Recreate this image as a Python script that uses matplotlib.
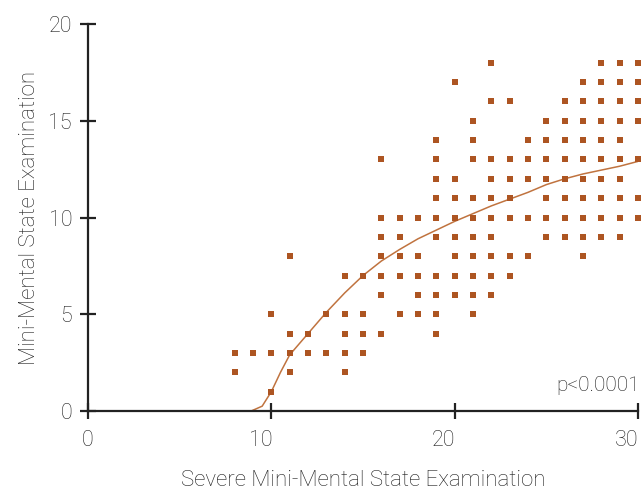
import matplotlib
matplotlib.use("Agg")
import matplotlib.pyplot as plt
import matplotlib.transforms as mtransforms

# scatter points (integer grid)
pts_x = [8, 8, 9,
         10, 10, 10,
         11, 11, 11, 11,
         12, 12,
         13, 13,
         14, 14, 14, 14, 14,
         15, 15, 15, 15,
         16, 16, 16, 16, 16, 16, 16,
         17, 17, 17, 17, 17,
         18, 18, 18, 18, 18,
         19, 19, 19, 19, 19, 19, 19, 19, 19, 19, 19,
         20, 20, 20, 20, 20, 20, 20, 20,
         21, 21, 21, 21, 21, 21, 21, 21, 21, 21,
         22, 22, 22, 22, 22, 22, 22, 22, 22, 22, 22,
         23, 23, 23, 23, 23, 23, 23,
         24, 24, 24, 24, 24,
         25, 25, 25, 25, 25, 25, 25,
         26, 26, 26, 26, 26, 26, 26, 26,
         27, 27, 27, 27, 27, 27, 27, 27, 27, 27,
         28, 28, 28, 28, 28, 28, 28, 28, 28, 28,
         29, 29, 29, 29, 29, 29, 29, 29, 29, 29,
         30, 30, 30, 30, 30, 30, 30]
pts_y = [3, 2, 3,
         5, 3, 1,
         8, 4, 3, 2,
         4, 3,
         5, 3,
         7, 5, 4, 3, 2,
         7, 5, 4, 3,
         13, 10, 9, 8, 7, 6, 4,
         10, 9, 8, 7, 5,
         10, 8, 7, 6, 5,
         14, 13, 12, 11, 10, 9, 7, 6, 5, 4, 4,
         17, 12, 11, 10, 9, 8, 7, 6,
         15, 14, 13, 11, 10, 9, 8, 7, 6, 5,
         18, 16, 13, 12, 11, 10, 9, 8, 7, 6, 6,
         16, 13, 12, 11, 10, 8, 7,
         14, 13, 12, 10, 8,
         15, 14, 13, 12, 11, 10, 9,
         16, 15, 14, 13, 12, 11, 10, 9,
         17, 16, 15, 14, 13, 12, 11, 10, 9, 8,
         18, 17, 16, 15, 14, 13, 12, 11, 10, 9,
         18, 17, 16, 15, 14, 13, 12, 11, 10, 9,
         18, 17, 16, 15, 13, 11, 10]

# fitted curve
fit_x = [8.9, 9.5, 10, 10.5, 11, 12, 13, 14, 15, 16, 17, 18, 19, 20,
         21, 22, 23, 24, 25, 26, 27, 28, 29, 30]
fit_y = [0, 0.25, 1.0, 2.0, 2.9, 4.0, 5.1, 6.1, 7.0, 7.75, 8.35, 8.9, 9.35, 9.8,
         10.2, 10.6, 10.95, 11.3, 11.7, 12.0, 12.25, 12.45, 12.65, 12.9]

xticks = [0, 10, 20, 30]
yticks = [0, 5, 10, 15, 20]

plt.rcParams['font.family'] = ['Roboto', 'DejaVu Sans']
plt.rcParams['font.weight'] = 'light'
txt_color = '#1e1e1e'

fig = plt.figure(figsize=(6.44, 4.91), dpi=100)
ax = fig.add_axes([88 / 644, 1 - 411 / 491, 550 / 644, 387 / 491])

ax.plot(fit_x, fit_y, color='#c0733f', lw=1.1, zorder=2)
ax.scatter(pts_x, pts_y, marker='s', s=20, color='#ad5522', linewidths=0,
           zorder=3, clip_on=False)

ax.set_xlim(0, 30)
ax.set_ylim(0, 20)
ax.set_xticks(xticks)
ax.set_yticks(yticks)
ax.set_xticklabels([str(t) for t in xticks], fontweight='light')
ax.set_yticklabels([str(t) for t in yticks], fontweight='light')

for s in ['top', 'right']:
    ax.spines[s].set_visible(False)
for s in ['left', 'bottom']:
    ax.spines[s].set_linewidth(1.6)
    ax.spines[s].set_color('#222222')

ax.tick_params(direction='inout', length=11, width=1.6, color='#222222',
               labelsize=15.5, labelcolor=txt_color)
ax.tick_params(axis='x', pad=8)
ax.tick_params(axis='y', pad=6)

# x tick labels sit a bit left of their ticks in the original
for lab in ax.get_xticklabels()[1:]:
    off = mtransforms.ScaledTranslation(-11 / 100, 0, fig.dpi_scale_trans)
    lab.set_transform(lab.get_transform() + off)

ax.set_xlabel('Severe Mini-Mental State Examination', fontsize=16,
              fontweight='light', color=txt_color, labelpad=14)
ax.set_ylabel('Mini-Mental State Examination', fontsize=16,
              fontweight='light', color=txt_color, labelpad=6)

ax.text(30.1, 1.3, 'p<0.0001', ha='right', va='center', fontsize=15,
        fontweight='light', color=txt_color)

fig.savefig('out.png', dpi=100)
